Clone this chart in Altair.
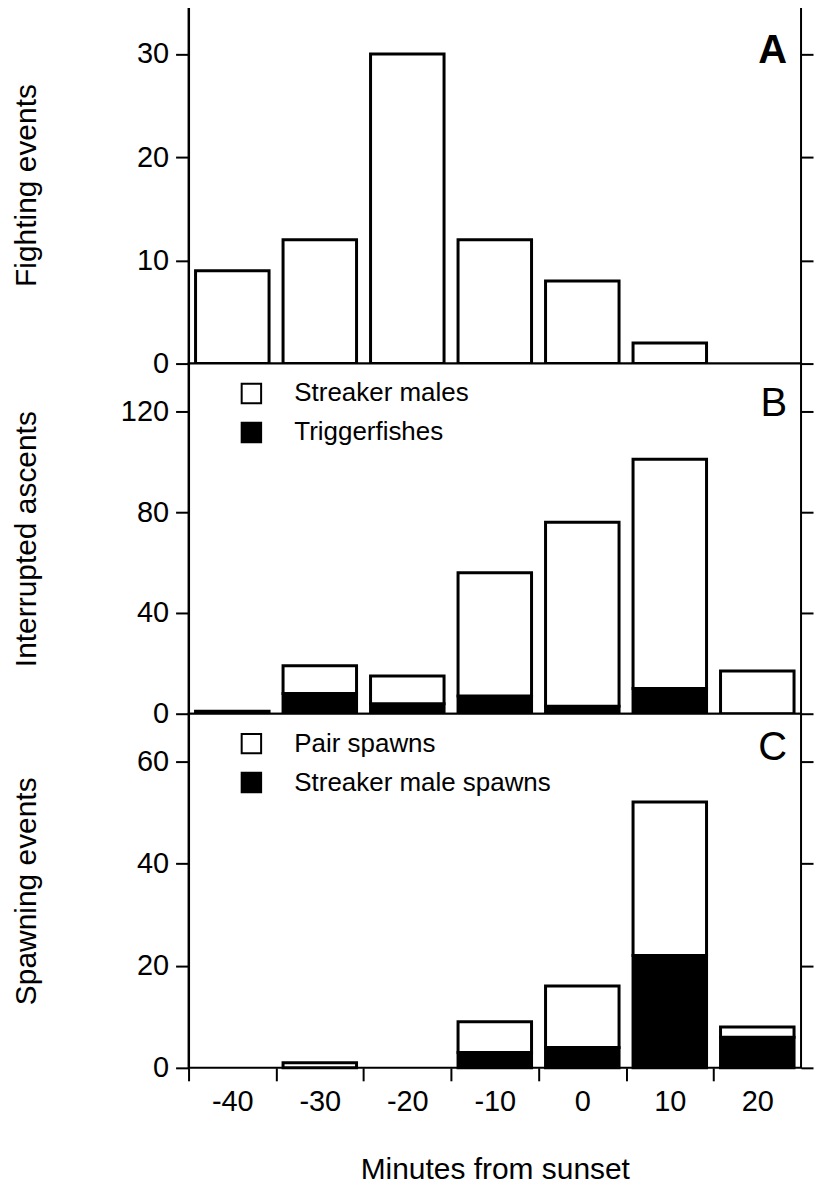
import altair as alt
import pandas as pd

# ---- data ----
minutes = [-40, -30, -20, -10, 0, 10, 20]
fighting = [9, 12, 30, 12, 8, 2, 0]
asc_streaker = [0, 11, 11, 49, 73, 91, 17]    # white part (Streaker males)
asc_trigger = [1, 8, 4, 7, 3, 10, 0]          # black part (Triggerfishes)
spawn_pair = [0, 1, 0, 6, 12, 30, 2]          # white part (Pair spawns)
spawn_streaker = [0, 0, 0, 3, 4, 22, 6]       # black part (Streaker male spawns)

ticks_a = [0, 10, 20, 30]
ticks_b = [0, 40, 80, 120]
ticks_c = [0, 20, 40, 60]
x_bounds = [-45, -35, -25, -15, -5, 5, 15]
letters = ["A", "B", "C"]

FONT = "Liberation Sans"
W = 614
HA, HB, HC = 358, 351, 355
HALF = 4.2
BIN_PX = W / 7.0
VIEW = alt.ViewBackground(stroke="black", strokeWidth=2, fill="white")

xscale = alt.Scale(domain=[-45, 25], nice=False, zero=False)


def y_left(title, values, h, domain, field):
    return alt.Y(
        f"{field}:Q",
        scale=alt.Scale(domain=domain, nice=False, zero=True),
        axis=alt.Axis(
            values=values, orient="left", title=title, grid=False,
            titleX=-153, titleY=h / 2, titleAngle=270, titleAlign="center",
            titleBaseline="alphabetic", titleFont=FONT, titleFontSize=30,
            titleFontWeight="normal", titleColor="black",
            labelFont=FONT, labelFontSize=29, labelColor="black", labelPadding=7,
            tickSize=13, tickWidth=2, tickColor="black",
            domainColor="black", domainWidth=2,
        ),
    )


def y_right(values, domain, field):
    return alt.Y(
        f"{field}:Q",
        scale=alt.Scale(domain=domain, nice=False, zero=True),
        axis=alt.Axis(
            values=values, orient="right", title=None, labels=False, grid=False,
            tickSize=12, tickWidth=2, tickColor="black", domain=False,
        ),
    )


def letter_layer(letter, yb, bold):
    return alt.Chart(pd.DataFrame({"letter": [letter]})).mark_text(
        font=FONT, fontSize=40, fontWeight="bold" if bold else "normal",
        align="right", baseline="alphabetic", color="black",
    ).encode(text="letter:N", x=alt.value(W - 14), y=alt.value(yb))


# ---- Panel A ----
df_a = pd.DataFrame({"minute": minutes, "value": fighting})
base_a = alt.Chart(df_a).transform_filter("datum.value > 0").transform_calculate(
    x0=f"datum.minute - {HALF}", x1=f"datum.minute + {HALF}", zero="0")
bars_a = base_a.mark_bar(fill="white", stroke="black", strokeWidth=3).encode(
    x=alt.X("x0:Q", scale=xscale, axis=None), x2="x1:Q",
    y=y_left("Fighting events", ticks_a, HA, [0, 34.6], "value"),
    y2="zero:Q",
)
right_a = base_a.mark_point(opacity=0).encode(
    y=y_right(ticks_a, [0, 34.6], "value"),
)
panel_a = alt.layer(bars_a, right_a, letter_layer(letters[0], 57, True)).resolve_axis(
    y="independent").properties(width=W, height=HA, view=VIEW)


def stacked_panel(white_name, black_name, white_vals, black_vals, title, ticks, h,
                  domain, letter, yb, x_axis):
    rows = []
    for m, wv, bv in zip(minutes, white_vals, black_vals):
        rows.append({"minute": m, "series": black_name, "ord": 0, "value": bv})
        rows.append({"minute": m, "series": white_name, "ord": 1, "value": wv})
    df = pd.DataFrame(rows)
    base = alt.Chart(df).transform_stack(
        stack="value", groupby=["minute"], as_=["v0", "v1"],
        sort=[alt.SortField("ord", order="ascending")],
    ).transform_filter("datum.value > 0").transform_calculate(
        x0=f"datum.minute - {HALF}", x1=f"datum.minute + {HALF}")
    bars = base.mark_bar(stroke="black", strokeWidth=3).encode(
        x=alt.X("x0:Q", scale=xscale, axis=x_axis), x2="x1:Q",
        y=y_left(title, ticks, h, domain, "v1"),
        y2="v0:Q",
        color=alt.Color(
            "series:N",
            scale=alt.Scale(domain=[white_name, black_name], range=["white", "black"]),
            legend=alt.Legend(
                title=None, orient="none", legendX=50, legendY=17,
                symbolType="square", symbolSize=380, symbolStrokeColor="black",
                symbolStrokeWidth=2, labelFont=FONT, labelFontSize=26,
                labelColor="black", labelOffset=30, rowPadding=11, padding=0,
                labelLimit=500,
            ),
        ),
    )
    right = base.mark_point(opacity=0).encode(
        y=y_right(ticks, domain, "v1"),
    )
    return alt.layer(bars, right, letter_layer(letter, yb, False)).resolve_axis(
        y="independent").properties(width=W, height=h, view=VIEW)


panel_b = stacked_panel(
    "Streaker males", "Triggerfishes", asc_streaker, asc_trigger,
    "Interrupted ascents", ticks_b, HB, [0, 139], letters[1], 53, None)

x_axis_c = alt.Axis(
    values=x_bounds, title="Minutes from sunset", grid=False,
    labelExpr="'' + (datum.value + 5)",
    labelOffset=BIN_PX / 2, labelFlush=False, labelOverlap=False, labelBound=False,
    labelFont=FONT, labelFontSize=29, labelColor="black", labelPadding=7,
    tickSize=13, tickWidth=2, tickColor="black", domain=False,
    titleFont=FONT, titleFontSize=30, titleFontWeight="normal", titleColor="black",
    titlePadding=38,
)
panel_c = stacked_panel(
    "Pair spawns", "Streaker male spawns", spawn_pair, spawn_streaker,
    "Spawning events", ticks_c, HC, [0, 69.3], letters[2], 46, x_axis_c)

chart = alt.vconcat(panel_a, panel_b, panel_c, spacing=0, bounds="flush").resolve_scale(
    y="independent", x="independent", color="independent"
).properties(
    padding={"left": 3, "top": -4, "right": 2, "bottom": 0}
).configure_view(stroke="black", strokeWidth=2).configure(background="white")

chart.save("out.html", embed_options={"renderer": "svg", "actions": False})
